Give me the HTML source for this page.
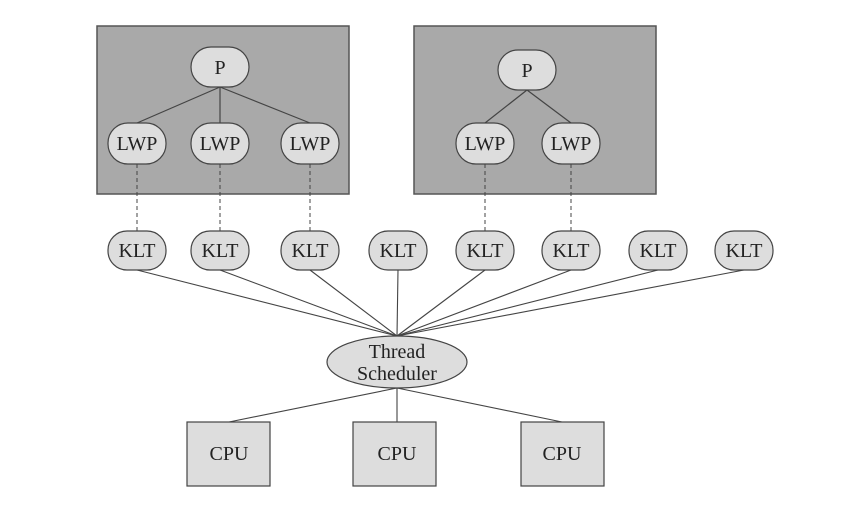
<!DOCTYPE html>
<html><head><style>body{margin:0;background:#fff}</style></head><body>
<svg width="842" height="503" viewBox="0 0 842 503" xmlns="http://www.w3.org/2000/svg" font-family="Liberation Serif, serif" font-size="20" fill="#222">
<rect x="97" y="26" width="252" height="168" fill="#a9a9a9" stroke="#555" stroke-width="1.5"/>
<rect x="414" y="26" width="242" height="168" fill="#a9a9a9" stroke="#555" stroke-width="1.5"/>
<g stroke="#444" stroke-width="1.2">
<line x1="220" y1="87" x2="137" y2="123"/><line x1="220" y1="87" x2="220" y2="123"/><line x1="220" y1="87" x2="310" y2="123"/>
<line x1="527" y1="90" x2="485" y2="123"/><line x1="527" y1="90" x2="571" y2="123"/>
</g>
<g stroke="#444" stroke-width="1" stroke-dasharray="4,3">
<line x1="137" y1="164" x2="137" y2="231"/><line x1="220" y1="164" x2="220" y2="231"/><line x1="310" y1="164" x2="310" y2="231"/>
<line x1="485" y1="164" x2="485" y2="231"/><line x1="571" y1="164" x2="571" y2="231"/>
</g>
<g stroke="#444" stroke-width="1.1">
<line x1="137" y1="270" x2="397" y2="336"/><line x1="220" y1="270" x2="397" y2="336"/><line x1="310" y1="270" x2="397" y2="336"/><line x1="398" y1="270" x2="397" y2="336"/>
<line x1="485" y1="270" x2="397" y2="336"/><line x1="571" y1="270" x2="397" y2="336"/><line x1="658" y1="270" x2="397" y2="336"/><line x1="744" y1="270" x2="397" y2="336"/>
<line x1="397" y1="388" x2="229" y2="422"/><line x1="397" y1="388" x2="397" y2="422"/><line x1="397" y1="388" x2="562" y2="422"/>
</g>
<g fill="#ddd" stroke="#444" stroke-width="1.2">
<rect x="191" y="47" width="58" height="40" rx="20"/>
<rect x="498" y="50" width="58" height="40" rx="20"/>
<rect x="108" y="123" width="58" height="41" rx="20"/><rect x="191" y="123" width="58" height="41" rx="20"/><rect x="281" y="123" width="58" height="41" rx="20"/>
<rect x="456" y="123" width="58" height="41" rx="20"/><rect x="542" y="123" width="58" height="41" rx="20"/>
<rect x="108" y="231" width="58" height="39" rx="19"/><rect x="191" y="231" width="58" height="39" rx="19"/><rect x="281" y="231" width="58" height="39" rx="19"/><rect x="369" y="231" width="58" height="39" rx="19"/>
<rect x="456" y="231" width="58" height="39" rx="19"/><rect x="542" y="231" width="58" height="39" rx="19"/><rect x="629" y="231" width="58" height="39" rx="19"/><rect x="715" y="231" width="58" height="39" rx="19"/>
<ellipse cx="397" cy="362" rx="70" ry="26"/>
<rect x="187" y="422" width="83" height="64"/><rect x="353" y="422" width="83" height="64"/><rect x="521" y="422" width="83" height="64"/>
</g>
<g text-anchor="middle">
<text x="220" y="74">P</text><text x="527" y="77">P</text>
<text x="137" y="150">LWP</text><text x="220" y="150">LWP</text><text x="310" y="150">LWP</text><text x="485" y="150">LWP</text><text x="571" y="150">LWP</text>
<text x="137" y="257">KLT</text><text x="220" y="257">KLT</text><text x="310" y="257">KLT</text><text x="398" y="257">KLT</text><text x="485" y="257">KLT</text><text x="571" y="257">KLT</text><text x="658" y="257">KLT</text><text x="744" y="257">KLT</text>
<text x="397" y="358">Thread</text><text x="397" y="380">Scheduler</text>
<text x="229" y="460">CPU</text><text x="397" y="460">CPU</text><text x="562" y="460">CPU</text>
</g>
</svg>
</body></html>
